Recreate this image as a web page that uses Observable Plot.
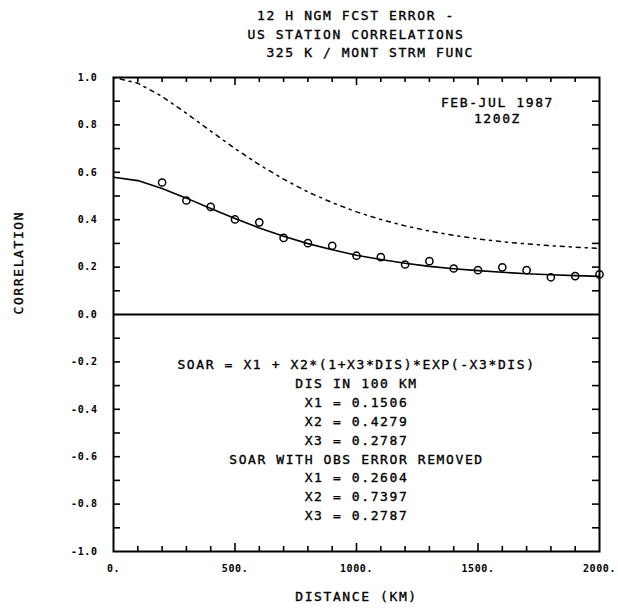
<!DOCTYPE html>
<html>
<head>
<meta charset="utf-8">
<script src="https://cdn.jsdelivr.net/npm/d3@7"></script>
<script src="https://cdn.jsdelivr.net/npm/@observablehq/plot@0.6"></script>
<style>
  html, body { margin: 0; padding: 0; background: #fff; }
  #title {
    width: 618px; height: 66px; box-sizing: border-box;
    padding-top: 7px; padding-left: 94px;
    text-align: center; white-space: pre;
    font: 13px "DejaVu Sans Mono", monospace; letter-spacing: 1.6px;
    line-height: 18.5px; color: #000;
    -webkit-text-stroke: 0.35px #000;
  }
  #chart svg g[aria-label="text"] text { letter-spacing: 1.6px; }
  #chart svg g[aria-label="x-axis tick label"] text,
  #chart svg g[aria-label="y-axis tick label"] text { letter-spacing: 0.6px; }
</style>
</head>
<body>
<div id="title"></div>
<div id="chart"></div>
<script>
// ---- titles / annotations ----
const titleLines = ["12 H NGM FCST ERROR -", "US STATION CORRELATIONS", "   325 K / MONT STRM FUNC"];
const periodLines = ["FEB-JUL 1987", "1200Z"];
const formulaLines = [
  "SOAR = X1 + X2*(1+X3*DIS)*EXP(-X3*DIS)",
  "DIS IN 100 KM",
  "X1 = 0.1506",
  "X2 = 0.4279",
  "X3 = 0.2787",
  "SOAR WITH OBS ERROR REMOVED",
  "X1 = 0.2604",
  "X2 = 0.7397",
  "X3 = 0.2787"
];
const xTitle = "DISTANCE (KM)";
const yTitle = "CORRELATION";

// ---- observed correlations (circles) ----
const obsDistance = [200, 300, 400, 500, 600, 700, 800, 900, 1000, 1100, 1200, 1300, 1400, 1500, 1600, 1700, 1800, 1900, 2000];
const obsCorr = [0.557, 0.481, 0.454, 0.401, 0.389, 0.323, 0.301, 0.290, 0.248, 0.242, 0.211, 0.225, 0.194, 0.187, 0.199, 0.187, 0.157, 0.162, 0.169];

// ---- fitted curves ----
const curveDistance = [0, 100, 200, 300, 400, 500, 600, 700, 800, 900, 1000, 1100, 1200, 1300, 1400, 1500, 1600, 1700, 1800, 1900, 2000];
const soarFit = [0.579, 0.565, 0.532, 0.491, 0.447, 0.405, 0.365, 0.330, 0.299, 0.273, 0.250, 0.232, 0.216, 0.203, 0.193, 0.185, 0.178, 0.172, 0.168, 0.164, 0.161];
const soarNoObsError = [1.000, 0.976, 0.920, 0.849, 0.774, 0.700, 0.632, 0.571, 0.517, 0.472, 0.433, 0.401, 0.374, 0.352, 0.334, 0.319, 0.307, 0.298, 0.290, 0.284, 0.279];

// ---- ticks ----
const xLabelTicks = [0, 500, 1000, 1500, 2000];
const xMajorTicks = [500, 1000, 1500];
const xMinorTicks = [100, 200, 300, 400, 600, 700, 800, 900, 1100, 1200, 1300, 1400, 1600, 1700, 1800, 1900];
const yLabelTicks = [1.0, 0.8, 0.6, 0.4, 0.2, 0.0, -0.2, -0.4, -0.6, -0.8, -1.0];
const yMinorTicks = [0.9, 0.8, 0.7, 0.6, 0.5, 0.4, 0.3, 0.2, 0.1, -0.1, -0.2, -0.3, -0.4, -0.5, -0.6, -0.7, -0.8, -0.9];

document.getElementById("title").textContent = titleLines.join("\n");

const fit = curveDistance.map((d, i) => ({d, v: soarFit[i]}));
const fit2 = curveDistance.map((d, i) => ({d, v: soarNoObsError[i]}));
const obs = obsDistance.map((d, i) => ({d, v: obsCorr[i]}));

const W = 618, H = 542, mT = 11, mB = 57, mL = 113, mR = 19;
const fw = W - mL - mR, fh = H - mT - mB;
const font = "DejaVu Sans Mono";
const txt = {fontSize: 13, fill: "#000", stroke: "#000", strokeWidth: 0.35};

const chart = Plot.plot({
  width: W, height: H,
  marginTop: mT, marginBottom: mB, marginLeft: mL, marginRight: mR,
  x: {domain: [0, 2000]},
  y: {domain: [-1, 1]},
  style: {fontFamily: font, background: "#fff", color: "#000"},
  marks: [
    // tick labels through the library's axes
    Plot.axisX({ticks: xLabelTicks, tickSize: 0, tickPadding: 13, tickFormat: d => d + ".", fontSize: 10, fontWeight: "bold", label: null}),
    Plot.axisY({ticks: yLabelTicks, tickSize: 0, tickPadding: 16, tickFormat: d => d.toFixed(1), fontSize: 10, fontWeight: "bold", label: null}),
    // inward ticks
    Plot.tickY(yMinorTicks, {y: d => d, insetRight: fw - 7, strokeWidth: 1.6}),
    Plot.tickY(yMinorTicks, {y: d => d, insetLeft: fw - 7, strokeWidth: 1.6}),
    Plot.tickX(xMinorTicks, {x: d => d, insetBottom: fh - 5, strokeWidth: 1.6}),
    Plot.tickX(xMajorTicks, {x: d => d, insetBottom: fh - 8, strokeWidth: 1.6}),
    Plot.tickX(xMinorTicks, {x: d => d, insetTop: fh - 5, strokeWidth: 1.6}),
    Plot.tickX(xMajorTicks, {x: d => d, insetTop: fh - 8, strokeWidth: 1.6}),
    // zero line
    Plot.ruleY([0], {strokeWidth: 2}),
    // curves
    Plot.line(fit2, {x: "d", y: "v", stroke: "#000", strokeWidth: 1.5, strokeDasharray: "2,5,4,5"}),
    Plot.line(fit, {x: "d", y: "v", stroke: "#000", strokeWidth: 1.6}),
    Plot.dot(obs, {x: "d", y: "v", r: 3.6, stroke: "#000", strokeWidth: 1.5, fill: "none"}),
    // annotations
    Plot.text([periodLines.join("\n")], {x: 1580, y: 0.9, lineAnchor: "top", dy: -6, lineHeight: 1.25, ...txt}),
    Plot.text([formulaLines.join("\n")], {x: 1000, y: -0.2, lineAnchor: "top", dy: -6, lineHeight: 1.45, ...txt}),
    // axis titles
    Plot.text([xTitle], {frameAnchor: "bottom", dy: 49, ...txt}),
    Plot.text([yTitle], {frameAnchor: "left", dx: -95, rotate: -90, ...txt}),
    Plot.frame({stroke: "#000", strokeWidth: 2})
  ]
});
document.getElementById("chart").appendChild(chart);
</script>
</body>
</html>
